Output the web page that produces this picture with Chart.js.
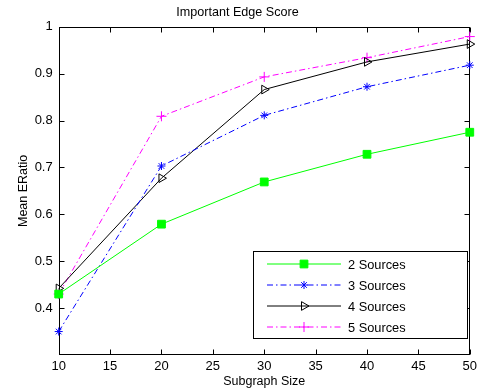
<!DOCTYPE html>
<html>
<head>
<meta charset="utf-8">
<script src="https://cdn.jsdelivr.net/npm/chart.js@4/dist/chart.umd.min.js"></script>
<style>
  body { margin: 0; background: #fff; }
  canvas { display: block; }
</style>
</head>
<body>
<canvas id="chart" width="481" height="390"></canvas>
<script>
// subgraph sizes on the x axis
var sizes = [10, 20, 30, 40, 50];

// mean ERatio per number of sources
var twoSources   = [0.430, 0.579, 0.669, 0.728, 0.775];
var threeSources = [0.350, 0.703, 0.811, 0.872, 0.918];
var fourSources  = [0.442, 0.677, 0.866, 0.925, 0.963];
var fiveSources  = [0.430, 0.809, 0.893, 0.934, 0.979];

var seriesNames = ["2 Sources", "3 Sources", "4 Sources", "5 Sources"];

var xTicks = [10, 15, 20, 25, 30, 35, 40, 45, 50];
var yTicks = [0.4, 0.5, 0.6, 0.7, 0.8, 0.9, 1.0];

function toPoints(vals) {
  return vals.map(function(v, i) { return {x: sizes[i], y: v}; });
}

var FONT = "'Liberation Sans', Arial, Helvetica, sans-serif";

// box round the axes and the inward ticks on all four sides
var framePlugin = {
  id: "frame",
  beforeDatasetsDraw: function(chart) {
    var ctx = chart.ctx, a = chart.chartArea;
    var xs = chart.scales.x, ys = chart.scales.y;
    var L = Math.round(a.left) + 0.5, R = Math.round(a.right) - 0.5;
    var T = Math.round(a.top) + 0.5, B = Math.round(a.bottom) - 0.5;
    ctx.save();
    ctx.strokeStyle = "#000";
    ctx.lineWidth = 1;
    ctx.strokeRect(L, T, R - L, B - T);
    ctx.beginPath();
    xTicks.forEach(function(t) {
      var px = Math.round(xs.getPixelForValue(t)) + 0.5;
      ctx.moveTo(px, B); ctx.lineTo(px, B - 5);
      ctx.moveTo(px, T); ctx.lineTo(px, T + 5);
    });
    yTicks.forEach(function(t) {
      var py = Math.round(ys.getPixelForValue(t)) + 0.5;
      ctx.moveTo(L, py); ctx.lineTo(L + 5, py);
      ctx.moveTo(R, py); ctx.lineTo(R - 5, py);
    });
    ctx.stroke();
    ctx.restore();
  }
};

// MATLAB style legend box in the lower right
var legendPlugin = {
  id: "boxLegend",
  afterDatasetsDraw: function(chart) {
    var ctx = chart.ctx;
    var bx = 253, by = 251, bw = 214, bh = 87;
    ctx.save();
    ctx.fillStyle = "#fff";
    ctx.fillRect(bx, by, bw, bh);
    ctx.strokeStyle = "#000";
    ctx.lineWidth = 1;
    ctx.strokeRect(bx + 0.5, by + 0.5, bw, bh);
    var rows = [264, 285, 306, 327];
    chart.data.datasets.forEach(function(ds, i) {
      var y = rows[i];
      ctx.save();
      ctx.strokeStyle = ds.borderColor;
      ctx.lineWidth = ds.borderWidth;
      ctx.setLineDash(ds.borderDash || []);
      ctx.beginPath();
      ctx.moveTo(267, y); ctx.lineTo(341, y);
      ctx.stroke();
      ctx.setLineDash([]);
      ctx.fillStyle = ds.pointBackgroundColor;
      ctx.strokeStyle = ds.pointBorderColor;
      ctx.lineWidth = 1;
      Chart.helpers.drawPoint(ctx, {
        pointStyle: ds.pointStyle,
        radius: ds.pointRadius,
        rotation: ds.pointRotation || 0,
        borderWidth: 1
      }, 304, y);
      ctx.restore();
      ctx.fillStyle = "#000";
      ctx.font = "12.8px " + FONT;
      ctx.textBaseline = "middle";
      ctx.fillText(ds.label, 348, y + 1);
    });
    ctx.restore();
  }
};

var ctx = document.getElementById("chart").getContext("2d");

var chart = new Chart(ctx, {
  type: "line",
  data: {
    datasets: [
      {
        label: seriesNames[0],
        data: toPoints(twoSources),
        borderColor: "#00ff00",
        borderWidth: 1,
        pointStyle: "rect",
        pointRadius: 5.5,
        pointBackgroundColor: "#00ff00",
        pointBorderColor: "#00ff00",
        clip: false
      },
      {
        label: seriesNames[1],
        data: toPoints(threeSources),
        borderColor: "#0000ff",
        borderWidth: 1,
        borderDash: [6, 3, 1.5, 3],
        pointStyle: "star",
        pointRadius: 4,
        pointBackgroundColor: "#0000ff",
        pointBorderColor: "#0000ff",
        clip: false
      },
      {
        label: seriesNames[2],
        data: toPoints(fourSources),
        borderColor: "#000000",
        borderWidth: 1,
        pointStyle: "triangle",
        pointRotation: 90,
        pointRadius: 5,
        pointBackgroundColor: "rgba(0,0,0,0)",
        pointBorderColor: "#000000",
        clip: false
      },
      {
        label: seriesNames[3],
        data: toPoints(fiveSources),
        borderColor: "#ff00ff",
        borderWidth: 1,
        borderDash: [6, 3, 1.5, 3],
        pointStyle: "cross",
        pointRadius: 5,
        pointBackgroundColor: "#ff00ff",
        pointBorderColor: "#ff00ff",
        clip: false
      }
    ]
  },
  options: {
    responsive: false,
    animation: false,
    tension: 0,
    layout: { padding: { left: 0, right: 6, top: 0, bottom: 0 } },
    plugins: {
      legend: { display: false },
      tooltip: { enabled: false },
      title: {
        display: true,
        text: "Important Edge Score",
        color: "#000",
        font: { family: FONT, size: 12.6, weight: "normal" },
        padding: { top: 5, bottom: 6.6 }
      }
    },
    scales: {
      x: {
        type: "linear",
        min: 10,
        max: 50,
        afterFit: function(s) { s.height = 35; },
        afterBuildTicks: function(s) {
          s.ticks = xTicks.map(function(v) { return {value: v}; });
        },
        grid: { display: false, drawTicks: false },
        border: { display: false },
        ticks: {
          color: "#000",
          padding: 4,
          maxRotation: 0,
          font: { family: FONT, size: 13 }
        },
        title: {
          display: true,
          text: "Subgraph Size",
          color: "#000",
          font: { family: FONT, size: 12.5 },
          padding: { top: 0, bottom: 1 }
        }
      },
      y: {
        min: 0.3,
        max: 1,
        afterFit: function(s) { s.width = 58.7; },
        afterBuildTicks: function(s) {
          s.ticks = yTicks.map(function(v) { return {value: v}; });
        },
        grid: { display: false, drawTicks: false },
        border: { display: false },
        ticks: {
          color: "#000",
          padding: 6,
          font: { family: FONT, size: 13 },
          callback: function(v) {
            return Math.abs(v - 1) < 1e-9 ? "1" : v.toFixed(1);
          }
        },
        title: {
          display: true,
          text: "Mean ERatio",
          color: "#000",
          font: { family: FONT, size: 12.5 },
          padding: { top: 16, bottom: 0 }
        }
      }
    }
  },
  plugins: [framePlugin, legendPlugin]
});
</script>
</body>
</html>
